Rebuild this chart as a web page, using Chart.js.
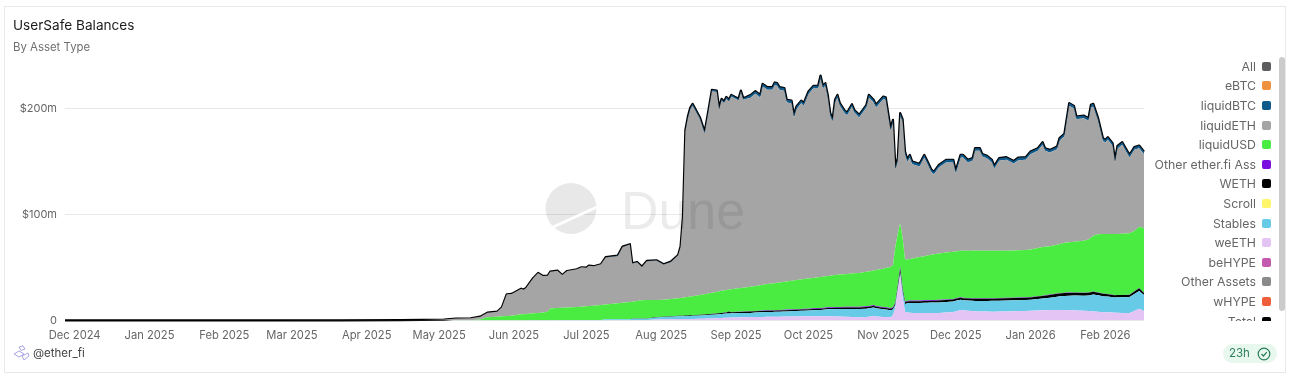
<!DOCTYPE html>
<html>
<head>
<meta charset="utf-8">
<title>UserSafe Balances</title>
<script src="https://cdn.jsdelivr.net/npm/chart.js@4"></script>
<style>
  html, body { margin: 0; background: #fff; overflow: hidden; font-family: Inter, sans-serif; }
  #card { position: absolute; left: 4px; top: 6px; width: 1280px; height: 365px; border: 1px solid #e9e9e9; }
  #chart { position: absolute; left: 0; top: 0; }
  #title { position: absolute; left: 13px; top: 17px; font-size: 13.6px; line-height: 17px; color: #1b1b1b; }
  #subtitle { position: absolute; left: 13px; top: 40px; font-size: 11.4px; line-height: 14px; color: #6f6f6f; }
  #owner { position: absolute; left: 33px; top: 346px; font-size: 11.5px; line-height: 14px; color: #444; }
  #badge { position: absolute; left: 1223px; top: 344px; width: 54px; height: 19px; border-radius: 10px; background: #e9f8ef;
           font-size: 11.5px; line-height: 19px; color: #2c7d5c; padding-left: 6px; box-sizing: border-box; }
  #badge svg { position: absolute; left: 34px; top: 3px; }
  #legend { position: absolute; left: 1150px; top: 56.5px; width: 121px; height: 264.5px; overflow: hidden; }
  .item { height: 19.6px; display: flex; justify-content: flex-end; align-items: center; font-size: 12.3px; color: #666; white-space: nowrap; }
  .swatch { width: 9px; height: 9px; border-radius: 2px; margin-left: 6px; flex: none; }
  #scrollbar { position: absolute; left: 1279px; top: 57px; width: 6px; height: 254px; border-radius: 3px; background: #cbcbcb; }
  #mark { position: absolute; left: 0; top: 0; pointer-events: none; }
</style>
</head>
<body>
<canvas id="chart" width="1150" height="345"></canvas>
<svg id="mark" width="1291" height="381">
  <circle cx="571" cy="208.5" r="25.5" fill="rgba(0,0,0,0.09)"/>
  <line x1="551" y1="228" x2="597" y2="207" stroke="#fff" stroke-width="2.5"/>
  <text x="621" y="229" font-family="Liberation Sans" font-size="54" textLength="124" lengthAdjust="spacingAndGlyphs" fill="rgba(0,0,0,0.08)">Dune</text>
</svg>
<div id="card"></div>
<div id="title">UserSafe Balances</div>
<div id="subtitle">By Asset Type</div>
<svg style="position:absolute;left:13px;top:345px" width="17" height="16" fill="none" stroke="#a9a4e6" stroke-width="1">
  <path d="M1 9 L6 6 L11 9 L6 12 Z M6 2 L10 0.8 L12 4 L8 5.5 Z M9 11 L15 8 L16 11 L11 15 Z"/>
</svg>
<div id="owner">@ether_fi</div>
<div id="legend"></div>
<div id="scrollbar"></div>
<div id="badge">23h
  <svg width="14" height="14" fill="none" stroke="#2c7d5c" stroke-width="1.2">
    <circle cx="7" cy="7" r="5.8"/><path d="M4.5 7 L6.4 9 L9.8 5.2"/>
  </svg>
</div>

<script>
// Sample days, counted from 1 Dec 2024
const dayIndex = [
  -4, 20, 50, 80, 110, 135,
  144, 153, 158, 164, 168, 171, 175, 177, 179, 181, 185, 186, 187,
  190, 192, 194, 196, 197,
  200, 202, 204, 208, 210, 212, 213, 215, 218,
  220, 225, 227, 230,
  231, 233, 235, 237,
  241, 244, 247, 250, 251, 252,
  253, 254, 255, 256, 259, 261, 262,
  264, 266, 267, 268, 269, 270, 271, 272,
  275, 276, 277, 280, 282, 284,
  285, 287, 289, 290, 291, 292, 294, 295, 297, 298, 299,
  301, 302, 304, 306, 308, 309, 310, 311, 312, 313, 314, 315, 316,
  317, 319, 320, 322, 323, 325, 328, 329, 331, 332, 335, 336,
  338, 339, 340, 341, 342, 343, 344,
  345, 346, 347, 350, 352, 353, 355, 356,
  358, 361, 364, 365, 367, 368,
  370, 372, 373, 375, 376, 378, 380, 381, 383,
  386, 389, 391, 394, 396, 399,
  401, 402, 404, 407, 408, 410, 412,
  414, 415, 418, 420, 421, 422,
  424, 426, 427, 428, 430, 431,
  432, 434, 437, 439, 441, 443
];

// Series values in $m, same row layout as dayIndex
const weETH = [
  0, 0, 0, 0, 0, 0,
  0, 0, 0, 0, 0, 0, 0, 0, 0, 0, 0, 0, 0,
  0, 0, 0, 0, 0,
  .1, .1, .1, .1, .1, .1, .1, .1, .1,
  .3, .3, .3, .3,
  .5, .5, .5, .5,
  1, 1.1, 1.2, 1.3, 1.3, 1.3,
  1.4, 1.4, 1.5, 1.5, 1.6, 1.7, 1.8,
  2, 2.2, 2.3, 2.4, 2.5, 2.6, 2.7, 2.8,
  2.9, 3, 3, 3.2, 3.3, 3.4,
  3.4, 3.5, 3.5, 3.6, 3.6, 3.6, 3.7, 3.7, 3.8, 3.8, 3.8,
  3.9, 3.9, 3.9, 4, 4, 4, 4, 4, 4, 3.9, 3.9, 3.8, 3.8,
  3.7, 3.6, 3.5, 3.4, 3.3, 3, 3.3, 3.6, 4.2, 3.8, 3.3, 3.2,
  3.1, 5, 12, 28, 43, 22, 8.3,
  7.6, 7.4, 7.2, 7, 7, 7, 7, 7,
  7.2, 7.6, 8, 8.6, 10, 9.6,
  9.2, 9, 8.8, 8.6, 8.5, 8.4, 8.3, 8.3, 8.4,
  8.6, 8.8, 8.9, 9, 9.1, 9.4,
  9.6, 9.7, 9.9, 10, 10, 9.9, 9.8,
  9.6, 9.5, 9.1, 8.9, 8.7, 8.5,
  8.2, 7.9, 7.8, 7.7, 7.5, 7.4,
  7.3, 7.2, 7.2, 9, 11, 9
];
const stables = [
  0, 0, 0, 0, 0, 0,
  0, 0, 0, 0, 0, 0, 0, 0, 0, 0, 0, 0, 0,
  .2, .2, .2, .2, .2,
  .4, .4, .4, .4, .4, .4, .4, .4, .4,
  .8, .8, .8, .8,
  1.2, 1.2, 1.2, 1.2,
  1.9, 2.1, 2.4, 2.7, 2.8, 2.8,
  2.8, 2.9, 2.8, 2.9, 3.2, 3.3, 3.4,
  3.4, 3.5, 3.7, 3.7, 3.9, 4, 4, 4,
  4, 4, 4.1, 4, 4.2, 4.4,
  4.4, 4.5, 4.6, 4.6, 4.6, 4.7, 4.8, 4.9, 5, 5.1, 5.2,
  5.2, 5.3, 5.5, 5.6, 5.9, 6, 6.1, 6.3, 6.6, 6.7, 6.8, 7, 7.1,
  7.1, 7.3, 7.4, 7.5, 7.6, 7.9, 7.9, 8, 8.2, 7.8, 7.4, 7.2,
  6.7, 5.5, 3, 2, 2, 5, 7.3,
  8.7, 9.1, 9.4, 9.6, 9.7, 9.8, 9.9, 9.9,
  9.9, 9.9, 10, 10, 9.5, 9.5,
  9.6, 9.6, 9.7, 9.9, 10, 10.1, 10.3, 10.3, 10.3,
  10.3, 10.3, 10.2, 10.3, 10.4, 10.8,
  11.1, 11.3, 11.7, 12.5, 12.8, 13.3, 13.6,
  14.1, 14.1, 14.3, 14.8, 15.5, 16,
  15.6, 15, 14.9, 14.9, 14.5, 14.3,
  14.6, 14.7, 14.9, 16, 16.9, 15.1
];
const weth = [
  0, 0, 0, 0, 0, 0,
  0, 0, 0, 0, 0, 0, 0, 0, 0, 0, 0, 0, 0,
  0, 0, 0, 0, 0,
  0, 0, 0, 0, 0, 0, 0, 0, 0,
  .1, .1, .1, .1,
  .2, .2, .2, .2,
  .3, .4, .4, .4, .4, .5,
  .5, .5, .6, .6, .6, .7, .7,
  .8, .9, .9, 1, 1, 1, 1.8, 1.1,
  1.1, 1.1, 1.1, 1.2, 1.2, 1.2,
  1.2, 1.2, 1.2, 1.2, 1.2, 1.2, 1.2, 1.2, 1.2, 1.2, 1.2,
  1.2, 1.2, 1.2, 1.2, 1.2, 1.2, 1.2, 1.2, 1.2, 1.2, 1.2, 1.2, 1.2,
  1.3, 1.3, 1.3, 1.3, 1.4, 1.4, 1.5, 1.5, 1.6, 1.5, 1.4, 1.4,
  1.3, 1.4, 1.5, 2.5, 4, 2.5, 1.6,
  1.6, 1.6, 1.6, 1.7, 1.7, 1.7, 1.7, 1.7,
  1.8, 1.8, 1.9, 1.9, 2, 2,
  2, 2, 2, 2, 2, 2, 2, 2, 2,
  2.1, 2.1, 2.2, 2.2, 2.3, 2.4,
  2.5, 2.5, 2.6, 2.7, 2.7, 2.7, 2.7,
  2.6, 2.6, 2.6, 2.6, 2.6, 2.6,
  2.4, 2.3, 2.3, 2.2, 2.2, 2.2,
  2.1, 2.1, 2.1, 2.5, 2.5, 2
];
const otherEtherFi = [
  0, 0, 0, 0, 0, 0,
  0, 0, 0, 0, 0, 0, 0, 0, 0, 0, 0, 0, 0,
  0, 0, 0, 0, 0,
  0, 0, 0, 0, 0, 0, 0, 0, 0,
  0, 0, 0, 0,
  0, 0, 0, 0,
  0, 0, 0, 0, 0, 0,
  0, 0, 0, 0, 0, 0, 0,
  .1, .1, .1, .1, .1, .1, .1, .1,
  .2, .2, .2, .3, .3, .3,
  .4, .4, .4, .4, .5, .5, .5, .5, .5, .5, .5,
  .6, .6, .6, .7, .7, .7, .7, .7, .7, .7, .7, .7, .7,
  .7, .7, .7, .7, .7, .7, .7, .7, .7, .7, .7, .7,
  .7, .7, .7, 1, 1.9, 1, .7,
  .7, .7, .7, .7, .7, .7, .7, .7,
  .6, .6, .5, .5, .5, .5,
  .5, .5, .5, .5, .5, .5, .5, .5, .5,
  .4, .4, .4, .4, .4, .4,
  .3, .3, .3, .3, .3, .3, .3,
  .2, .2, .2, .2, .2, .2,
  .2, .2, .2, .2, .2, .2,
  .2, .2, .2, .2, .2, .2
];
const liquidUSD = [
  0, 0, 0, 0, 0, 0,
  .1, .1, .2, .3, 1, 3, 3.5, 4, 4.2, 4.5, 5.8, 6, 6.2,
  6.6, 7, 7.4, 8, 11.1,
  11.3, 11.5, 11.7, 12.3, 12.5, 12.9, 13.1, 13.5, 14.2,
  14, 15, 15.6, 16.3,
  15.9, 16.5, 17.3, 17.5,
  16.2, 16, 16.2, 16.6, 16.7, 16.9,
  17.3, 17.5, 17.7, 18, 18.6, 19.1, 19.3,
  19.9, 20.3, 20.6, 20.8, 20.9, 21.1, 20.6, 21.6,
  22.2, 22.4, 22.6, 23.3, 23.6, 24.1,
  24.4, 24.8, 25.3, 25.5, 25.8, 26, 26.4, 26.6, 27, 27.3, 27.5,
  27.9, 28.1, 28.5, 28.7, 29, 29.2, 29.4, 29.5, 29.5, 29.9, 30.1, 30.3, 30.5,
  30.7, 30.9, 31.1, 31.5, 31.6, 32, 32.6, 32.6, 32.5, 33.8, 36.2, 37,
  38.7, 39.4, 52.8, 48.5, 41.1, 47.5, 39.6,
  39, 39.2, 39.7, 41, 41.7, 42.2, 42.9, 43.3,
  43.7, 44.3, 44.6, 44.3, 44, 44.4,
  44.7, 44.9, 45.2, 45, 45, 44.8, 44.7, 44.7, 44.8,
  44.6, 44.6, 44.7, 44.7, 45, 45.6,
  45.9, 45.8, 45.7, 46.1, 46.2, 47.2, 47.6,
  47.9, 48.2, 49.2, 50.1, 51.2, 52.7,
  55, 56.4, 56.6, 56.8, 57.4, 57.7,
  57.6, 57.8, 58.1, 56.8, 58.1, 60.9
];
const liquidETH = [
  .1, .1, .1, .1, .2, .3,
  .4, .8, 1.6, 1.8, 2.6, 4.4, 4.8, 8.5, 20.6, 20.6, 24.3, 23.1, 24.5,
  33.4, 37.7, 34.5, 34.2, 34.8,
  35.3, 31, 34.6, 35.6, 37.3, 36.5, 38.2, 37.3, 38.4,
  44.3, 44.8, 52.7, 54.3,
  36, 36.6, 31.4, 36.6,
  37.2, 33.2, 35.1, 40.6, 48.3, 76.4,
  156.6, 168.6, 176.8, 180.2, 166.6, 152.2, 164.8,
  190.3, 188.8, 171.8, 180, 177, 181, 177.8, 182.1,
  177.6, 185.1, 177.6, 178.5, 181.6, 177.3,
  187.3, 183.6, 183, 187.1, 186.1, 182, 180.5, 169.1, 167.8, 153.9, 161.5,
  166.5, 163.8, 174.2, 179, 178.4, 187.9, 177.8, 180.1, 168.7, 151.3, 145.1, 163, 167.4,
  159.4, 152.1, 150, 157.5, 151.9, 146.8, 155.3, 164.3, 158.8, 153.7, 160.1, 159,
  128.7, 135.1, 72.4, 68.9, 101.4, 109.8, 99.6,
  92.3, 96, 89.1, 85.5, 93.2, 87.9, 77.6, 75.6,
  81.3, 85.1, 84.3, 73.9, 88, 88,
  83.3, 84.9, 94.1, 94.3, 88.9, 87.3, 83.5, 77.8, 84.9,
  85.8, 82.1, 85.1, 85.2, 89.9, 91.7,
  96.6, 90.7, 88.5, 90.2, 97.8, 100.5, 128.9,
  125.9, 115.6, 115.8, 112.1, 123.1, 122.2,
  107.3, 88, 86.4, 88.9, 83.3, 67.5,
  80.7, 84, 71.5, 76.8, 74.1, 69.9
];
const liquidBTC = [
  0, 0, 0, 0, 0, 0,
  0, 0, 0, 0, 0, 0, 0, 0, 0, 0, 0, 0, 0,
  0, 0, 0, 0, 0,
  0, 0, 0, 0, 0, 0, 0, 0, 0,
  .3, .3, .3, .3,
  .3, .3, .3, .3,
  .3, .3, .3, .3, .3, .3,
  1.5, 1.5, 1.5, 1.5, 1.5, 1.5, 1.5,
  1.5, 1.5, 1.5, 1.5, 1.5, 1.5, 1.5, 1.5,
  1.5, 1.5, 1.5, 2.5, 2.5, 2.5,
  2.5, 2.5, 2.5, 2.5, 2.5, 2.5, 2.5, 2.5, 2.5, 2.5, 2.5,
  2.5, 2.5, 2.5, 2.5, 2.5, 2.5, 2.5, 2.5, 2.5, 2.5, 2.5, 2.5, 2.5,
  2.5, 2.5, 2.5, 2.5, 2.5, 2.5, 2.5, 2.5, 2.5, 2.5, 2.5, 2.5,
  2.5, 2.5, 2.5, 2.5, 2.5, 2.5, 2.5,
  2.5, 2.5, 2.5, 2.5, 2.5, 2.5, 2.5, 2.5,
  2.5, 2.5, 2.5, 2.5, 2.5, 2.5,
  2.5, 2.5, 2.5, 2.5, 2.5, 2.5, 2.5, 2.5, 2.5,
  2.5, 2.5, 2.5, 2.5, 2.5, 2.5,
  2.5, 2.5, 2.5, 2.5, 2.5, 2.5, 2.5,
  2.5, 2.5, 2.5, 2.5, 2.5, 2.5,
  2.5, 2.5, 2.5, 2.5, 2.5, 2.5,
  2.5, 2.5, 2.5, 2.5, 2.5, 2.5
];
const total = [
  .1, .1, .1, .1, .2, .3,
  .5, .9, 1.8, 2.1, 3.6, 7.4, 8.3, 12.5, 24.8, 25.1, 30.1, 29.1, 30.7,
  40.2, 44.9, 42.1, 42.4, 46.1,
  47.1, 43, 46.8, 48.4, 50.3, 49.9, 51.8, 51.3, 53.1,
  59.8, 61.3, 69.8, 72.1,
  54.1, 55.3, 50.9, 56.3,
  56.9, 53.1, 55.6, 61.9, 69.8, 98.2,
  180.1, 192.4, 200.9, 204.7, 192.1, 178.5, 191.5,
  218, 217.3, 200.9, 209.5, 206.9, 211.3, 208.5, 213.2,
  209.5, 217.3, 210.1, 213, 216.7, 213.2,
  223.6, 220.5, 220.5, 224.9, 224.3, 220.5, 219.6, 208.5, 207.8, 194.3, 202.2,
  207.8, 205.4, 216.4, 221.7, 221.7, 231.5, 221.7, 224.3, 213.2, 196.2, 190.3, 208.5, 213.2,
  205.4, 198.4, 196.5, 204.4, 199, 194.3, 203.8, 213.2, 208.5, 203.8, 211.6, 211,
  181.7, 189.6, 144.9, 153.4, 195.9, 190.3, 159.6,
  152.4, 156.5, 150.2, 148, 156.5, 151.8, 142.3, 140.7,
  147, 151.8, 151.8, 141.7, 156.5, 156.5,
  151.8, 153.4, 162.8, 162.8, 157.4, 155.6, 151.8, 146.1, 153.4,
  154.3, 150.8, 154, 154.3, 159.6, 162.8,
  168.5, 162.8, 161.2, 164.3, 172.3, 176.4, 205.4,
  202.8, 192.7, 193.7, 191.2, 203.8, 204.7,
  191.2, 172.3, 170.7, 173.2, 167.6, 151.8,
  165, 168.5, 156.5, 163.8, 165.3, 159.6
];

// Axis ticks
const monthDays = [0, 31, 62, 90, 121, 151, 182, 212, 243, 274, 304, 335, 365, 396, 427];
const monthLabels = ['Dec 2024', 'Jan 2025', 'Feb 2025', 'Mar 2025', 'Apr 2025', 'May 2025', 'Jun 2025',
  'Jul 2025', 'Aug 2025', 'Sep 2025', 'Oct 2025', 'Nov 2025', 'Dec 2025', 'Jan 2026', 'Feb 2026'];
const valueTicks = [0, 100, 200];

// Legend
const legendNames = ['All', 'eBTC', 'liquidBTC', 'liquidETH', 'liquidUSD', 'Other ether.fi Ass', 'WETH',
  'Scroll', 'Stables', 'weETH', 'beHYPE', 'Other Assets', 'wHYPE', 'Total'];
const legendColors = ['#5d5d60', '#f0913f', '#0f5a8a', '#a6a5a6', '#4bec41', '#7a0fe0', '#000000',
  '#fff56a', '#67cbe8', '#e4c4f5', '#c35ab0', '#8a8a8a', '#ef5f3c', '#000000'];

const colorOf = (name) => legendColors[legendNames.indexOf(name)];

// Builds one filled band of the stack
const band = (name, values, index) => ({
  label: name,
  data: dayIndex.map((d, i) => ({ x: d, y: values[i] })),
  backgroundColor: colorOf(name),
  borderWidth: 0,
  pointRadius: 0,
  fill: index === 0 ? 'origin' : '-1',
  stack: 'assets',
});

const legendBox = document.getElementById('legend');
legendNames.forEach((name, i) => {
  const item = document.createElement('div');
  item.className = 'item';
  item.innerHTML = `<span>${name}</span><span class="swatch" style="background:${legendColors[i]}"></span>`;
  legendBox.appendChild(item);
});

new Chart(document.getElementById('chart'), {
  type: 'line',
  data: {
    datasets: [
      band('weETH', weETH, 0),
      band('Stables', stables, 1),
      band('WETH', weth, 2),
      band('Other ether.fi Ass', otherEtherFi, 3),
      band('liquidUSD', liquidUSD, 4),
      band('liquidETH', liquidETH, 5),
      band('liquidBTC', liquidBTC, 6),
      {
        label: 'Total',
        data: dayIndex.map((d, i) => ({ x: d, y: total[i] })),
        borderColor: '#000',
        borderWidth: 2.2,
        borderJoinStyle: 'round',
        pointRadius: 0,
        fill: false,
        stack: 'total',
        clip: false,
      },
    ],
  },
  options: {
    responsive: false,
    animation: false,
    layout: { padding: { top: 66.5, right: 6 } },
    plugins: { legend: { display: false }, tooltip: { enabled: false } },
    scales: {
      x: {
        type: 'linear',
        min: -4,
        max: 443,
        afterBuildTicks: (scale) => { scale.ticks = monthDays.map((value) => ({ value })); },
        afterFit: (scale) => { scale.height = 24.5; },
        grid: { display: false },
        border: { display: false },
        ticks: {
          autoSkip: false,
          maxRotation: 0,
          padding: 0,
          color: '#666',
          font: { family: 'Inter', size: 11.2 },
          callback: (value) => monthLabels[monthDays.indexOf(value)],
        },
      },
      y: {
        stacked: true,
        min: 0,
        max: 240,
        afterBuildTicks: (scale) => { scale.ticks = valueTicks.map((value) => ({ value })); },
        afterFit: (scale) => { scale.width = 65; },
        grid: { color: '#e8e8e8', drawTicks: false },
        border: { display: false },
        ticks: {
          padding: 8,
          color: '#666',
          font: { family: 'Inter', size: 11 },
          callback: (value) => (value === 0 ? '0' : `$${value}m`),
        },
      },
    },
  },
});
</script>
</body>
</html>
